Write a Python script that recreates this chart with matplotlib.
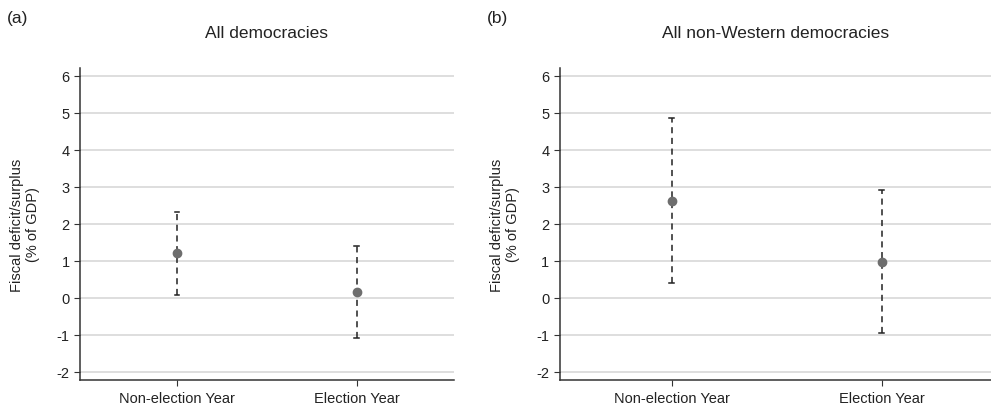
"""Election-year fiscal balance, two panels."""
import matplotlib.pyplot as plt

plt.rcParams["font.family"] = ["Liberation Sans", "DejaVu Sans"]
plt.rcParams["axes.unicode_minus"] = False

categories = ["Non-election Year", "Election Year"]

# panel (a): all democracies
est_a = [1.20, 0.15]
low_a = [0.08, -1.08]
high_a = [2.33, 1.40]

# panel (b): non-Western democracies
est_b = [2.62, 0.97]
low_b = [0.39, -0.94]
high_b = [4.86, 2.91]

panels = [
    ("(a)", "All democracies", est_a, low_a, high_a, [0.0807, 0.0707, 0.377, 0.761], (-0.54, 1.54)),
    ("(b)", "All non-Western democracies", est_b, low_b, high_b, [0.565, 0.0707, 0.435, 0.761], (-0.533, 1.52)),
]

fig = plt.figure(figsize=(9.91, 4.10), dpi=100)

for tag, title, est, low, high, rect, xlim in panels:
    ax = fig.add_axes(rect)
    x = list(range(len(categories)))
    for xi, e, lo, hi in zip(x, est, low, high):
        ax.plot([xi, xi], [lo, hi], color="#222222", lw=1.1, ls=(0, (4, 3)), zorder=3)
        ax.plot([xi - 0.012, xi + 0.012], [hi, hi], color="#222222", lw=1.1, zorder=3)
        ax.plot([xi - 0.012, xi + 0.012], [lo, lo], color="#222222", lw=1.1, zorder=3)
    ax.plot(x, est, "o", color="#6e6e6e", ms=6, zorder=4)

    ax.set_xlim(*xlim)
    ax.set_ylim(-2.22, 6.21)
    ax.set_yticks(range(-2, 7))
    ax.set_xticks(x)
    ax.set_xticklabels(categories)
    ax.yaxis.grid(True, color="#d4d4d4", lw=1.1)
    ax.set_axisbelow(True)
    for s in ("top", "right"):
        ax.spines[s].set_visible(False)
    for s in ("left", "bottom"):
        ax.spines[s].set_color("#333333")
        ax.spines[s].set_linewidth(1.1)
    ax.tick_params(axis="both", labelsize=10.5, length=4, color="#333333", labelcolor="#222222")
    ax.tick_params(axis="x", pad=4)
    ax.set_ylabel("Fiscal deficit/surplus\n(% of GDP)", fontsize=10.5, color="#222222", labelpad=12)
    ax.set_title(title, fontsize=12.5, pad=22, color="#222222")

    fx = rect[0] - 0.074
    fig.text(fx, 0.955, tag, fontsize=12.5, color="#222222", ha="left", va="center")

fig.savefig("out.png", dpi=100)
